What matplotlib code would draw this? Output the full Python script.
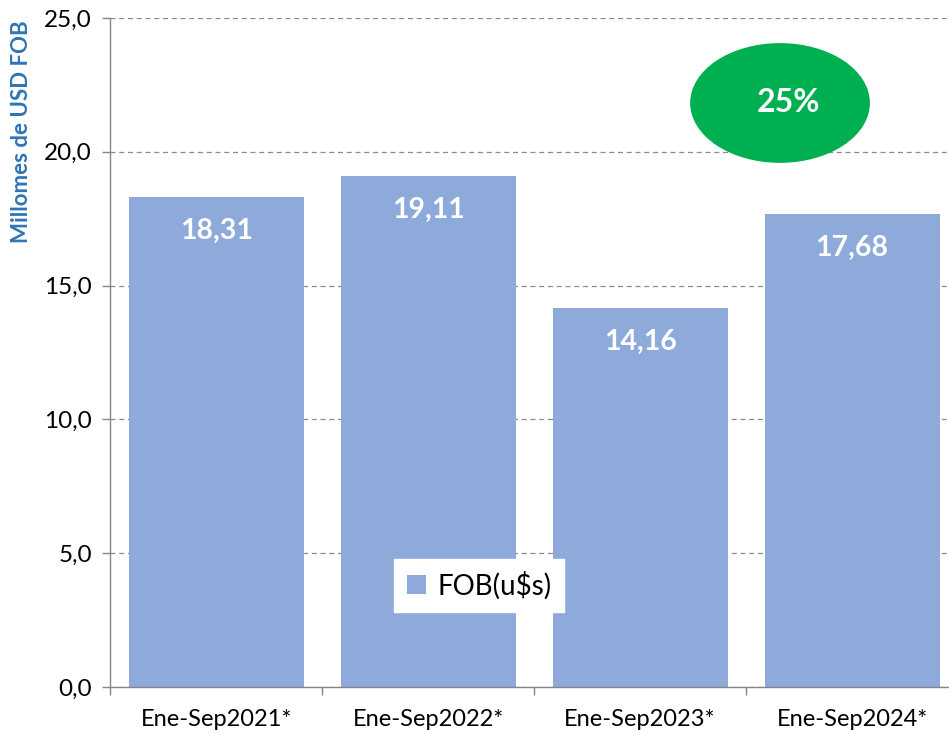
import matplotlib
matplotlib.use("Agg")
import matplotlib.pyplot as plt
from matplotlib.patches import Ellipse
from matplotlib.ticker import FuncFormatter, MultipleLocator

categories = ["Ene-Sep2021*", "Ene-Sep2022*", "Ene-Sep2023*", "Ene-Sep2024*"]
fob_values = [18.31, 19.11, 14.16, 17.68]
growth_label = "25%"
series_name = "FOB(u$s)"

BAR_COLOR = "#8EAADB"
AXIS_GREY = "#868686"

plt.rcParams["font.family"] = ["Lato", "DejaVu Sans"]

fig = plt.figure(figsize=(9.49, 7.35), dpi=100)
ax = fig.add_axes([0.116, 0.0653, 0.8936, 0.9102])

x = range(len(categories))
bars = ax.bar(x, fob_values, width=0.825, color=BAR_COLOR, zorder=2, label=series_name)

# value labels inside the top of each bar, with decimal comma
for rect, val in zip(bars, fob_values):
    ax.annotate(f"{val:.2f}".replace(".", ","),
                xy=(rect.get_x() + rect.get_width() / 2, val),
                xytext=(0, -34), textcoords="offset pixels",
                ha="center", va="center", color="white",
                fontsize=20.5, fontweight="bold", zorder=3)

ax.set_xlim(-0.5, len(categories) - 0.5)
ax.set_ylim(0, 25)
ax.yaxis.set_major_locator(MultipleLocator(5))
ax.yaxis.set_major_formatter(FuncFormatter(lambda v, _: f"{v:.1f}".replace(".", ",")))
ax.grid(axis="y", color="#8C8C8C", linestyle=(0, (4, 3)), linewidth=0.9, zorder=0)

# ticks between categories, labels centred under bars
ax.set_xticks([i + 0.5 for i in range(-1, len(categories))], minor=False)
ax.set_xticklabels([])
ax.set_xticks(list(x), minor=True)
ax.set_xticklabels(categories, minor=True)
ax.tick_params(axis="x", which="major", length=6, color=AXIS_GREY, width=1)
ax.tick_params(axis="x", which="minor", length=0, labelsize=17, pad=16)
ax.tick_params(axis="y", length=6, color=AXIS_GREY, width=1, labelsize=17.5, pad=7)

for side in ["top", "right"]:
    ax.spines[side].set_visible(False)
for side in ["left", "bottom"]:
    ax.spines[side].set_color(AXIS_GREY)
    ax.spines[side].set_linewidth(1)

ax.set_ylabel("Millomes de USD FOB", color="#2E75B6", fontsize=16,
              fontweight="bold")
ax.yaxis.set_label_coords(-0.092, 0.83)

ell = Ellipse((0.79, 0.873), 0.212, 0.179, transform=ax.transAxes,
              facecolor="#00B050", edgecolor="none", zorder=4, clip_on=False)
ax.add_patch(ell)
ax.text(0.80, 0.873, growth_label, transform=ax.transAxes, ha="center",
        va="center", color="white", fontsize=23, fontweight="bold", zorder=5)

leg = ax.legend(loc="center", bbox_to_anchor=(0.435, 0.152), frameon=True,
                fancybox=False, framealpha=1, edgecolor="white", fontsize=20,
                handlelength=0.7, handleheight=0.7, handletextpad=0.4,
                borderpad=0.45, borderaxespad=0)
leg.set_zorder(6)

fig.savefig("out.png", dpi=100)
